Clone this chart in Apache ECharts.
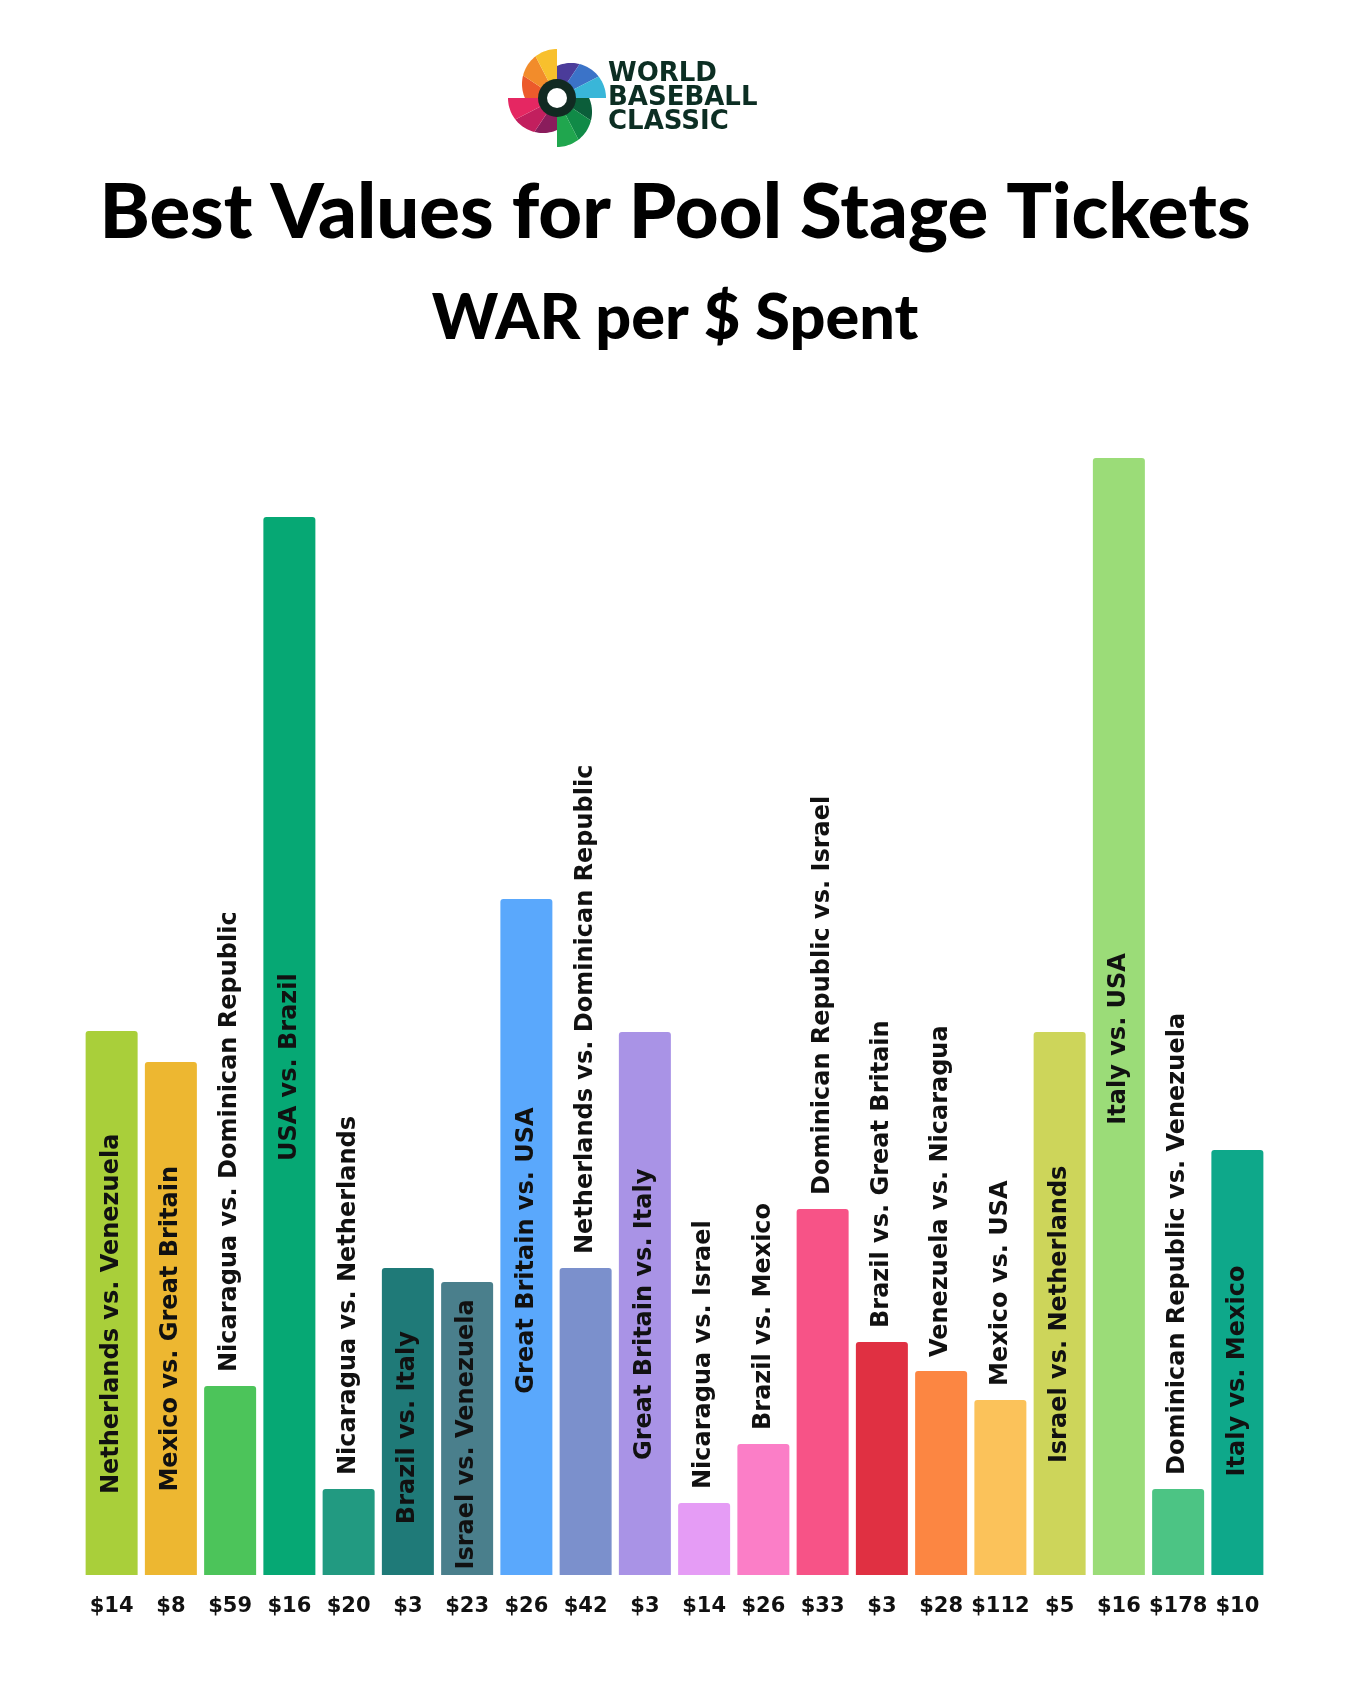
<!DOCTYPE html>
<html><head><meta charset="utf-8">
<script src="https://cdn.jsdelivr.net/npm/echarts@6/dist/echarts.min.js"></script>
<style>html,body{margin:0;padding:0;background:#fff}#c{width:1350px;height:1688px}</style>
</head><body><div id="c"></div>
<script>
// ---------- data ----------
const matchups = [
  'Netherlands vs. Venezuela','Mexico vs. Great Britain','Nicaragua vs. Dominican Republic','USA vs. Brazil',
  'Nicaragua vs. Netherlands','Brazil vs. Italy','Israel vs. Venezuela','Great Britain vs. USA',
  'Netherlands vs. Dominican Republic','Great Britain vs. Italy','Nicaragua vs. Israel','Brazil vs. Mexico',
  'Dominican Republic vs. Israel','Brazil vs. Great Britain','Venezuela vs. Nicaragua','Mexico vs. USA',
  'Israel vs. Netherlands','Italy vs. USA','Dominican Republic vs. Venezuela','Italy vs. Mexico'
];
const prices = [14, 8, 59, 16, 20, 3, 23, 26, 42, 3, 14, 26, 33, 3, 28, 112, 5, 16, 178, 10];
const warPerDollar = [5.44, 5.13, 1.89, 10.58, 0.86, 3.07, 2.93, 6.76, 3.07, 5.43,
                      0.72, 1.31, 3.66, 2.33, 2.04, 1.75, 5.43, 11.17, 0.86, 4.25];
const barColors = ['#a9cf3a','#edb731','#4cc45a','#06a874','#229a81','#1f7a78','#4a7f8c','#5aa8fc',
                   '#7b90cc','#a993e6','#e59cf5','#fb7ec7','#f75387','#e03042','#fc8642','#fbc25a',
                   '#cdd55a','#9bdc78','#4cc484','#0ea88a'];

// ---------- layout ----------
const W = 1350, H = 1688;
const GRID_TOP = 375, GRID_BOTTOM = 113, Y_MAX = 12;
const LABEL_FONT = "'DejaVu Sans'", LABEL_WEIGHT = 'bold', LABEL_SIZE = 24;
const plotH = H - GRID_TOP - GRID_BOTTOM;
const ctx = document.createElement('canvas').getContext('2d');
ctx.font = LABEL_WEIGHT + ' ' + LABEL_SIZE + 'px ' + LABEL_FONT;

const seriesData = warPerDollar.map((v, i) => {
  const barPx = v / Y_MAX * plotH;
  const tw = ctx.measureText(matchups[i]).width;
  const inside = tw + 12 < barPx;
  return {
    value: v,
    itemStyle: { color: barColors[i] },
    label: inside
      ? { position: ['50%', '52%'], align: 'center', verticalAlign: 'middle' }
      : { position: 'top', distance: 14, align: 'left', verticalAlign: 'middle' }
  };
});

// ---------- logo ----------
const LX = 557, LY = 98;
const bladeColors = [
  ['#ec5a2b', '#f28c2b', '#f8c02d'],   // top (tip up)
  ['#4b3c9a', '#3b73c8', '#39b6d8'],   // right
  ['#0b5e3a', '#108a47', '#20a64e'],   // bottom
  ['#8a1d5c', '#c21f5e', '#e52762']    // left
];
function rot(p, k) { let [x, y] = p; for (let j = 0; j < k; j++) { [x, y] = [-y, x]; } return [x, y]; }
const logo = [];
const a0 = Math.atan2(14, -32), a1 = 1.5 * Math.PI;
for (let k = 0; k < 4; k++) {
  for (let s = 0; s < 3; s++) {
    const sa = a0 + (a1 - a0) * s / 3, ea = a0 + (a1 - a0) * (s + 1) / 3;
    const pts = [[0, 0]];
    for (let t = 0; t <= 12; t++) {
      const a = sa + (ea - sa) * t / 12;
      pts.push([35 * Math.cos(a), -14 + 35 * Math.sin(a)]);
    }
    const rp = pts.map(p => { const r = rot(p, k); return [LX + r[0], LY + r[1]]; });
    logo.push({ type: 'polygon', shape: { points: rp }, style: { fill: bladeColors[k][s] }, silent: true });
  }
}
logo.push({ type: 'circle', shape: { cx: LX, cy: LY, r: 19 }, style: { fill: '#112a22' }, silent: true });
logo.push({ type: 'circle', shape: { cx: LX, cy: LY, r: 10 }, style: { fill: '#ffffff' }, silent: true });
['WORLD', 'BASEBALL', 'CLASSIC'].forEach((t, i) => {
  logo.push({ type: 'text', silent: true, style: {
    text: t, x: 608, y: 74 + i * 24, fill: '#0c2e23',
    fontFamily: 'DejaVu Sans', fontWeight: 'bold', fontSize: 26, align: 'left', verticalAlign: 'middle'
  }});
});

const titles = [
  { type: 'text', silent: true, style: { text: 'Best Values for Pool Stage Tickets', x: W / 2, y: 213,
    fill: '#000', fontFamily: 'Lato', fontWeight: 900, fontSize: 76, align: 'center', verticalAlign: 'middle' } },
  { type: 'text', silent: true, style: { text: 'WAR per $ Spent', x: W / 2, y: 319,
    fill: '#000', fontFamily: 'Lato', fontWeight: 900, fontSize: 63, align: 'center', verticalAlign: 'middle' } }
];

const chart = echarts.init(document.getElementById('c'), null, { renderer: 'canvas' });
chart.setOption({
  backgroundColor: '#ffffff',
  animation: false,
  grid: { left: 82, right: 83, top: GRID_TOP, bottom: GRID_BOTTOM, containLabel: false },
  xAxis: {
    type: 'category', data: matchups,
    axisLine: { show: false }, axisTick: { show: false },
    axisLabel: { interval: 0, margin: 21, formatter: (v, i) => '$' + prices[i],
      fontFamily: LABEL_FONT, fontWeight: 'bold', fontSize: 21, color: '#111' }
  },
  yAxis: { type: 'value', min: 0, max: Y_MAX, show: false, splitLine: { show: false } },
  series: [{
    type: 'bar', data: seriesData, barWidth: 52,
    itemStyle: { borderRadius: [3, 3, 0, 0] },
    label: { show: true, rotate: 90, formatter: p => matchups[p.dataIndex],
      fontFamily: LABEL_FONT, fontWeight: LABEL_WEIGHT, fontSize: LABEL_SIZE, color: '#111' }
  }],
  graphic: logo.concat(titles)
});
</script></body></html>
